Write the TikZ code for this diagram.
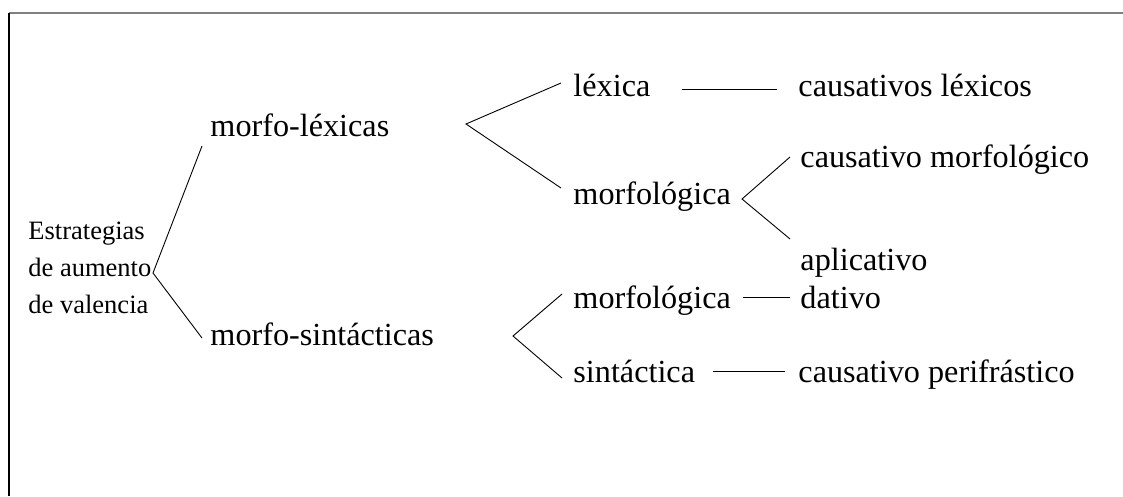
\documentclass[tikz,border=0pt]{standalone}
\usepackage{fontspec}
\setmainfont{Liberation Serif}
\begin{document}
\begin{tikzpicture}[x=1pt,y=-1pt,line width=0.9pt]
\tikzset{big/.style={anchor=base west, inner sep=0, font=\fontsize{32.2}{38}\selectfont}}
\useasboundingbox (0,0) rectangle (1123,496);
\draw[gray, line width=1.3pt] (9,13) -- (1123,13);
\draw[line width=1.3pt] (9,13) -- (9,496);
\node[anchor=west, inner sep=0, align=left, font=\fontsize{26.5}{37}\selectfont] (root) at (28,268) {Estrategias\\de aumento\\de valencia};
\node[big] (mlex) at (210,136) {morfo-léxicas};
\node[big] (msin) at (210,345) {morfo-sintácticas};
\node[big] (lex) at (573,96) {léxica};
\node[big] (morf1) at (573,204) {morfológica};
\node[big] (morf2) at (573,308) {morfológica};
\node[big] (sint) at (573,382) {sintáctica};
\node[big] (caulex) at (798,96) {causativos léxicos};
\node[big] (caumorf) at (800,167) {causativo morfológico};
\node[big] (apl) at (800,270) {aplicativo};
\node[big] (dat) at (800,308) {dativo};
\node[big] (cauper) at (798,382) {causativo perifrástico};
% forks
\coordinate (v0) at (153,273);
\coordinate (v0a) at (202,146);
\coordinate (v0b) at (202,338);
\draw (v0a) -- (v0) -- (v0b);
\coordinate (v1) at (466,124);
\coordinate (v1a) at (561,83);
\coordinate (v1b) at (561,188);
\draw (v1a) -- (v1) -- (v1b);
\coordinate (v2) at (742,199);
\coordinate (v2a) at (790,157);
\coordinate (v2b) at (790,239);
\draw (v2a) -- (v2) -- (v2b);
\coordinate (v3) at (513,336);
\coordinate (v3a) at (562,294);
\coordinate (v3b) at (562,378);
\draw (v3a) -- (v3) -- (v3b);
% single links
\coordinate (l1a) at (682,89);
\coordinate (l1b) at (777,89);
\draw (l1a) -- (l1b);
\coordinate (l2a) at (743,297);
\coordinate (l2b) at (790,297);
\draw (l2a) -- (l2b);
\coordinate (l3a) at (713,371);
\coordinate (l3b) at (785,371);
\draw (l3a) -- (l3b);
\end{tikzpicture}
\end{document}
